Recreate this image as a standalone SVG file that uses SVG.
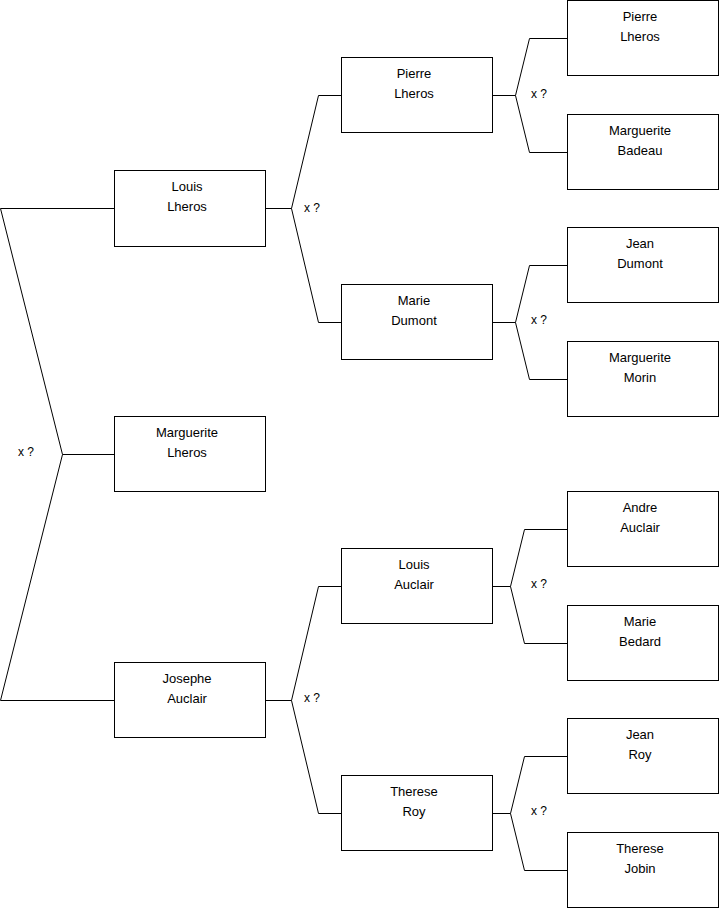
<svg xmlns="http://www.w3.org/2000/svg" width="719" height="908" viewBox="0 0 719 908">
<style>
.box{fill:#fff;stroke:#000;stroke-width:1}
.t{font-family:"Liberation Sans",Arial,sans-serif;font-size:13px;fill:#000;text-anchor:middle}
.lbl{font-family:"Liberation Sans",Arial,sans-serif;font-size:12px;fill:#000}
.c{fill:none;stroke:#000;stroke-width:1}
</style>
<rect width="719" height="908" fill="#fff"/>
<g id="connectors">
<path class="c" d="M0.5,208.5 H114.5 M0.5,208.5 L62.5,454.5 H114.5 M62.5,454.5 L0.5,700.5 H114.5"/>
<path class="c" d="M265.5,208.5 H291.5 L318.5,95.5 H341.5 M291.5,208.5 L318.5,322.5 H341.5"/>
<path class="c" d="M265.5,700.5 H291.5 L318.5,586.5 H341.5 M291.5,700.5 L318.5,813.5 H341.5"/>
<path class="c" d="M492.5,95.5 H515.5 L529.5,38.5 H567.5 M515.5,95.5 L529.5,152.5 H567.5"/>
<path class="c" d="M492.5,322.5 H515.5 L529.5,265.5 H567.5 M515.5,322.5 L529.5,379.5 H567.5"/>
<path class="c" d="M492.5,586.5 H510.5 L524.5,529.5 H567.5 M510.5,586.5 L524.5,643.5 H567.5"/>
<path class="c" d="M492.5,813.5 H510.5 L524.5,756.5 H567.5 M510.5,813.5 L524.5,870.5 H567.5"/>
<text class="lbl" x="18" y="456">x ?</text>
<text class="lbl" x="304" y="212">x ?</text>
<text class="lbl" x="304" y="702">x ?</text>
<text class="lbl" x="531" y="98">x ?</text>
<text class="lbl" x="531" y="324">x ?</text>
<text class="lbl" x="531" y="588">x ?</text>
<text class="lbl" x="531" y="815">x ?</text>
</g>
<g id="n-louis-lheros"><rect class="box" x="114.5" y="170.5" width="151" height="76"/><text class="t" x="187" y="191">Louis</text><text class="t" x="187" y="211">Lheros</text></g>
<g id="n-marguerite-lheros"><rect class="box" x="114.5" y="416.5" width="151" height="75"/><text class="t" x="187" y="437">Marguerite</text><text class="t" x="187" y="457">Lheros</text></g>
<g id="n-josephe-auclair"><rect class="box" x="114.5" y="662.5" width="151" height="75"/><text class="t" x="187" y="683">Josephe</text><text class="t" x="187" y="703">Auclair</text></g>
<g id="n-pierre-lheros-2"><rect class="box" x="341.5" y="57.5" width="151" height="75"/><text class="t" x="414" y="78">Pierre</text><text class="t" x="414" y="98">Lheros</text></g>
<g id="n-marie-dumont"><rect class="box" x="341.5" y="284.5" width="151" height="75"/><text class="t" x="414" y="305">Marie</text><text class="t" x="414" y="325">Dumont</text></g>
<g id="n-louis-auclair"><rect class="box" x="341.5" y="548.5" width="151" height="75"/><text class="t" x="414" y="569">Louis</text><text class="t" x="414" y="589">Auclair</text></g>
<g id="n-therese-roy"><rect class="box" x="341.5" y="775.5" width="151" height="75"/><text class="t" x="414" y="796">Therese</text><text class="t" x="414" y="816">Roy</text></g>
<g id="n-pierre-lheros-3"><rect class="box" x="567.5" y="0.5" width="151" height="75"/><text class="t" x="640" y="21">Pierre</text><text class="t" x="640" y="41">Lheros</text></g>
<g id="n-marguerite-badeau"><rect class="box" x="567.5" y="114.5" width="151" height="75"/><text class="t" x="640" y="135">Marguerite</text><text class="t" x="640" y="155">Badeau</text></g>
<g id="n-jean-dumont"><rect class="box" x="567.5" y="227.5" width="151" height="75"/><text class="t" x="640" y="248">Jean</text><text class="t" x="640" y="268">Dumont</text></g>
<g id="n-marguerite-morin"><rect class="box" x="567.5" y="341.5" width="151" height="75"/><text class="t" x="640" y="362">Marguerite</text><text class="t" x="640" y="382">Morin</text></g>
<g id="n-andre-auclair"><rect class="box" x="567.5" y="491.5" width="151" height="75"/><text class="t" x="640" y="512">Andre</text><text class="t" x="640" y="532">Auclair</text></g>
<g id="n-marie-bedard"><rect class="box" x="567.5" y="605.5" width="151" height="75"/><text class="t" x="640" y="626">Marie</text><text class="t" x="640" y="646">Bedard</text></g>
<g id="n-jean-roy"><rect class="box" x="567.5" y="718.5" width="151" height="75"/><text class="t" x="640" y="739">Jean</text><text class="t" x="640" y="759">Roy</text></g>
<g id="n-therese-jobin"><rect class="box" x="567.5" y="832.5" width="151" height="75"/><text class="t" x="640" y="853">Therese</text><text class="t" x="640" y="873">Jobin</text></g>
</svg>
